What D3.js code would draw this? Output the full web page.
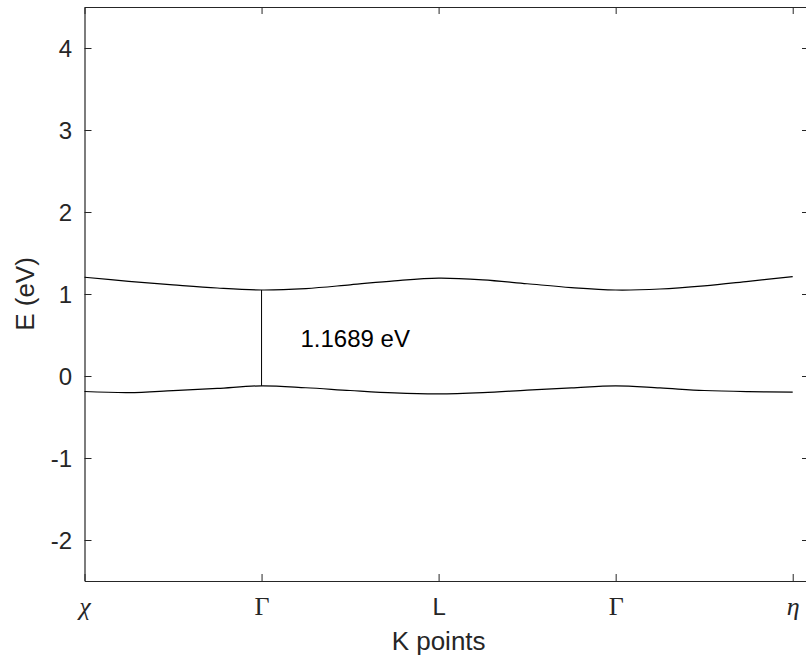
<!DOCTYPE html>
<html>
<head>
<meta charset="utf-8">
<script src="https://cdn.jsdelivr.net/npm/d3@7"></script>
<style>
  html, body { margin: 0; padding: 0; background: #fff; }
  svg { display: block; }
  text { font-family: "Liberation Sans", Arial, Helvetica, sans-serif; fill: #262626; }
</style>
</head>
<body>
<svg id="chart" width="806" height="662"></svg>
<script>
// k-path positions (high-symmetry points are one unit apart)
const kPoints = [0, 0.25, 0.5, 0.75, 1, 1.25, 1.5, 1.75, 2, 2.25, 2.5, 2.75, 3, 3.25, 3.5, 3.75, 4];
// lowest conduction band, eV
const conductionBand = [1.204, 1.155, 1.112, 1.073, 1.049, 1.066, 1.112, 1.161, 1.194, 1.173, 1.125, 1.078, 1.049, 1.061, 1.100, 1.155, 1.212];
// highest valence band, eV
const valenceBand = [-0.189, -0.203, -0.179, -0.152, -0.120, -0.143, -0.177, -0.207, -0.219, -0.203, -0.173, -0.145, -0.120, -0.146, -0.177, -0.191, -0.197];
// high-symmetry point ticks
const symTicks = [0, 1, 2, 3, 4];
const symLabels = ["\u03C7", "\u0393", "L", "\u0393", "\u03B7"];
const symStyle = ["serif-italic", "serif", "sans", "serif", "serif-italic"];
// energy ticks
const energyTicks = [-2, -1, 0, 1, 2, 3, 4];
const energyLabels = ["-2", "-1", "0", "1", "2", "3", "4"];
// band gap at the first Gamma point
const gapK = 1;
const gapValue = 1.1689;
const gapLabel = "1.1689 eV";

(function draw() {
  const svg = d3.select("#chart");
  const mLeft = 84.5, mRight = 809, mTop = 7, mBottom = 581;
  const axisColor = "#262626";

  const x = d3.scaleLinear().domain([0, 4.092]).range([mLeft, mRight]);
  const y = d3.scaleLinear().domain([-2.5, 4.5]).range([mBottom, mTop]);

  // frame: top and right borders with inward ticks
  const gTop = svg.append("g").attr("transform", `translate(0,${mTop})`)
    .call(d3.axisTop(x).tickValues(symTicks).tickSize(-7).tickSizeOuter(0).tickFormat(""));
  const gRight = svg.append("g").attr("transform", `translate(${mRight},0)`)
    .call(d3.axisRight(y).tickValues(energyTicks).tickSize(-7).tickSizeOuter(0).tickFormat(""));

  // bottom axis with high-symmetry labels
  const gBottom = svg.append("g").attr("transform", `translate(0,${mBottom})`)
    .call(d3.axisBottom(x).tickValues(symTicks).tickSize(-7).tickSizeOuter(0)
      .tickFormat((d, i) => symLabels[i]));
  gBottom.selectAll(".tick text")
    .attr("y", 34).attr("dy", 0)
    .style("font-size", "24px")
    .each(function(d, i) {
      const t = d3.select(this);
      if (symStyle[i] === "sans") {
        t.style("font-family", "'Liberation Sans', Arial, sans-serif");
      } else {
        t.style("font-family", "'Liberation Serif', 'Times New Roman', serif")
         .style("font-size", "26px")
         .style("font-style", symStyle[i] === "serif-italic" ? "italic" : "normal");
      }
    });

  // left axis
  const gLeft = svg.append("g").attr("transform", `translate(${mLeft},0)`)
    .call(d3.axisLeft(y).tickValues(energyTicks).tickSize(-7).tickSizeOuter(0).tickPadding(12.5)
      .tickFormat((d, i) => energyLabels[i]));
  gLeft.selectAll(".tick text").style("font-size", "24px").attr("dy", "0.35em");

  [gTop, gRight, gBottom, gLeft].forEach(g => {
    g.select(".domain").attr("stroke", axisColor).attr("stroke-width", 1.2);
    g.selectAll(".tick line").attr("stroke", axisColor).attr("stroke-width", 1);
    g.selectAll(".tick text").attr("fill", axisColor).style("fill", axisColor);
  });

  // bands
  const line = d3.line().x(d => x(d[0])).y(d => y(d[1])).curve(d3.curveCatmullRom.alpha(0.5));
  [conductionBand, valenceBand].forEach(band => {
    svg.append("path")
      .datum(kPoints.map((k, i) => [k, band[i]]))
      .attr("d", line)
      .attr("fill", "none")
      .attr("stroke", "#000")
      .attr("stroke-width", 1.2);
  });

  // band gap marker
  const vbmAtGap = valenceBand[kPoints.indexOf(gapK)];
  svg.append("line")
    .attr("x1", x(gapK)).attr("x2", x(gapK))
    .attr("y1", y(vbmAtGap)).attr("y2", y(vbmAtGap + gapValue))
    .attr("stroke", "#000").attr("stroke-width", 1);
  svg.append("text")
    .attr("x", 300.5).attr("y", 347)
    .style("font-size", "24px").style("fill", "#000")
    .text(gapLabel);

  // axis titles
  svg.append("text")
    .attr("x", (mLeft + x(4)) / 2).attr("y", 650)
    .attr("text-anchor", "middle")
    .style("font-size", "26px")
    .text("K points");
  svg.append("text")
    .attr("transform", `translate(34,${(mTop + mBottom) / 2}) rotate(-90)`)
    .attr("text-anchor", "middle")
    .style("font-size", "26px")
    .text("E (eV)");
})();
</script>
</body>
</html>
